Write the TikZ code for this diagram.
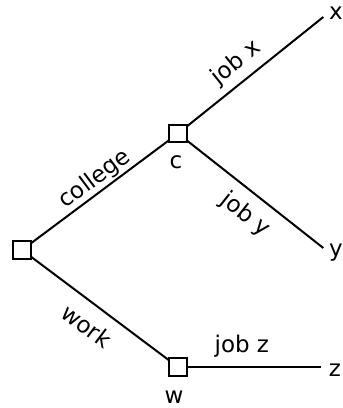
\documentclass[tikz,border=0pt]{standalone}
\usepackage{fontspec}
\setmainfont{DejaVu Sans}
\begin{document}
\begin{tikzpicture}[x=1pt,y=1pt,
  every node/.style={font=\fontsize{23}{27}\selectfont},
  box/.style={draw, line width=2.2pt, minimum size=17.5pt, inner sep=0pt, outer sep=0pt},
  branch/.style={line width=2pt},
  elabel/.style={sloped, inner sep=0pt},
  leaf/.style={inner sep=6.67pt},
  under/.style={label distance=#1, inner sep=1pt}]
\useasboundingbox (0,0) rectangle (343,408);
\node[box] (r) at (22,158) {};
\node[box, label={[under=12.5pt, xshift=-2pt]below:c}] (c) at (178,274.5) {};
\node[box, label={[under=13.5pt, xshift=-4pt]below:w}] (w) at (178,41) {};
\node[leaf] (x) at (336,395) {x};
\node[leaf] (y) at (336,155.5) {y};
\node[leaf] (z) at (335,38) {z};
\draw[branch] (r) -- node[elabel, pos=0.52, above=1pt] {college} (c);
\draw[branch] (r) -- node[elabel, pos=0.5, below=12pt] {work} (w);
\draw[branch] (c) -- node[elabel, pos=0.45, above=6.2pt] {job x} ([xshift=1pt,yshift=-4pt]x.west);
\draw[branch] (c) -- node[elabel, pos=0.53, below=10pt] {job y} ([xshift=1pt,yshift=4.5pt]y.west);
\draw[branch] (w) -- node[elabel, pos=0.41, above=9pt] {job z} ([xshift=-1pt,yshift=3pt]z.west);
\end{tikzpicture}
\end{document}
